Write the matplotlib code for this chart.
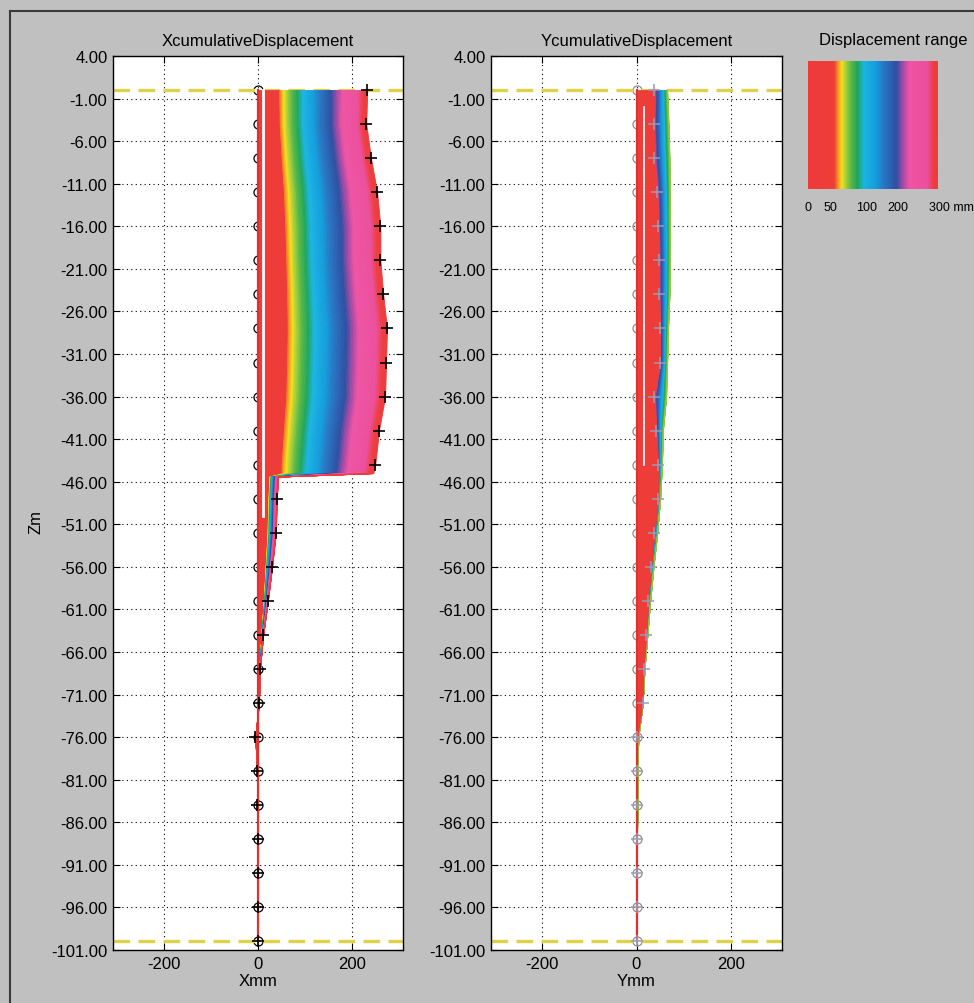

# Cumulative inclinometer displacement profiles (X and Y) with a displacement range key
import numpy as np
import matplotlib.pyplot as plt
from matplotlib.colors import LinearSegmentedColormap
from matplotlib.lines import Line2D

plt.rcParams['font.family'] = ['Liberation Sans', 'DejaVu Sans']
plt.rcParams['axes.unicode_minus'] = False

# reading depths (m)
depth = [0, -4, -8, -12, -16, -20, -24, -28, -32, -36, -40, -44, -48,
         -52, -56, -60, -64, -68, -72, -76, -80, -84, -88, -92, -96, -100]
initial = [0] * len(depth)

# X profile: latest reading (+ markers) and edge of the early red readings (mm)
x_final = [232, 230, 240, 253, 260, 260, 266, 274, 272, 270, 257, 249, 40,
           38, 30, 21, 11, 4, 2, -6, -2, -2, 0, 0, 0, 0]
x_red = [45, 46, 50, 55, 58, 60, 62, 63, 62, 60, 55, 50, 22,
         20, 16, 12, 7, 3, 1, -3, -1, -1, 0, 0, 0, 0]
# step of the X profile just below -44 m
step_depth = [-45.0, -45.4]
step_final = [245, 43]
step_red = [50, 24]

# Y profile: latest reading (+ markers) and the outer envelope of all readings (mm)
y_final = [38, 36, 38, 44, 46, 48, 48, 50, 50, 38, 42, 46, 46,
           38, 31, 25, 21, 15, 13, 2, 0, 0, 0, 0, 0, 0]
y_env = [65, 68, 70, 71, 71, 71, 70, 67, 65, 63, 56, 54, 50,
         44, 36, 29, 23, 17, 13, 4, 2, 2, 1, 1, 1, 0]

# white gaps in the early readings
x_gap, x_gap_depth = [10, 10], [0, -50]
y_gap, y_gap_depth = [15, 15], [-2, -44]

ref_levels = [0, -100]
yticks = [4 - 5 * i for i in range(22)]
xticks = [-200, 0, 200]

key_labels = ['0', '50', '100', '200', '300 mm']
key_label_pos = [0.0, 0.17, 0.45, 0.69, 0.93]

# displacement range colours
cmap_pos = [0.0, 0.20, 0.235, 0.26, 0.29, 0.33, 0.38, 0.43, 0.52, 0.58,
            0.68, 0.74, 0.78, 0.92, 0.97, 1.0]
cmap_col = ['#ee3b3b', '#ef3d37', '#f6a01e', '#f3e21f', '#a6cf3a', '#5bb947',
            '#1fa65c', '#1bb5e3', '#149fdd', '#2878c6', '#2e4fa2', '#b54aa6',
            '#ee55a4', '#ec4f9c', '#ee3d3d', '#ee3b3b']
cmap = LinearSegmentedColormap.from_list('disp', list(zip(cmap_pos, cmap_col)))

red = cmap(0.1)


def bands(ax, z, lo, hi, c0, c1, n=70):
    lo = np.asarray(lo, float)
    hi = np.asarray(hi, float)
    for k in range(n):
        a = lo + (hi - lo) * k / n
        b = lo + (hi - lo) * (k + 1) / n
        c = cmap(c0 + (c1 - c0) * (k + 0.5) / n)
        ax.fill_betweenx(z, a, b, color=c, lw=0.6, zorder=3)


def style(ax, title, xlabel):
    ax.set_xlim(-308, 308)
    ax.set_ylim(-101, 4)
    ax.set_yticks(yticks)
    ax.set_yticklabels(['%.2f' % v for v in yticks])
    ax.set_xticks(xticks)
    ax.grid(True, color='black', linestyle=(0, (1, 3)), linewidth=0.8)
    ax.set_axisbelow(True)
    ax.tick_params(direction='in', top=True, right=True, length=5,
                   labelsize=12, pad=4)
    for s in ax.spines.values():
        s.set_linewidth(1.0)
    ax.set_title(title, fontsize=12, pad=8)
    ax.set_xlabel(xlabel, fontsize=12, labelpad=2)
    for lev in ref_levels:
        ax.axhline(lev, color='#ddd24a', lw=2.4, dashes=(5, 2.5), zorder=2.5)


fig = plt.figure(figsize=(9.74, 10.04), dpi=100, facecolor='#c0c0c0')
axx = fig.add_axes([113 / 974, 53 / 1004, 290 / 974, 894 / 1004])
axy = fig.add_axes([491 / 974, 53 / 1004, 291 / 974, 894 / 1004])

# X panel
zx = depth[:12] + step_depth + depth[12:]
fx = x_final[:12] + step_final + x_final[12:]
rx = x_red[:12] + step_red + x_red[12:]
axx.plot(initial, depth, 'o', ms=6.5, mfc='none', mec='black', mew=0.9, zorder=2)
axx.fill_betweenx(zx, 0, rx, color=red, lw=0.6, zorder=3)
bands(axx, zx, rx, fx, 0.22, 1.0)
axx.plot(initial, depth, color='#e03030', lw=1.6, zorder=3.5)
axx.plot(x_gap, x_gap_depth, color='white', lw=2.0, zorder=3.6)
axx.plot(x_final, depth, '+', ms=9, mec='black', mew=1.2, zorder=5)
style(axx, 'XcumulativeDisplacement', 'Xmm')
axx.set_ylabel('Zm', fontsize=12)
axx.yaxis.set_label_coords(-0.24, 0.48)

# Y panel
axy.plot(initial, depth, 'o', ms=6.5, mfc='none', mec='#8c8c8c', mew=0.9, zorder=2)
bands(axy, depth, y_final, y_env, 0.78, 0.30)
axy.fill_betweenx(depth, 0, y_final, color=red, lw=0.6, zorder=3)
axy.plot(initial, depth, color='#e03030', lw=1.6, zorder=3.5)
axy.plot(y_gap, y_gap_depth, color='white', lw=1.2, zorder=3.6)
axy.plot(y_final, depth, '+', ms=8, mec='#9a9ab4', mew=1.1, zorder=5)
style(axy, 'YcumulativeDisplacement', 'Ymm')

# displacement range key
axk = fig.add_axes([808 / 974, 814 / 1004, 130 / 974, 128 / 1004])
axk.imshow(np.linspace(0, 1, 256)[None, :], cmap=cmap, aspect='auto',
           extent=(0, 1, 0, 1))
axk.set_xlim(0, 1)
axk.set_ylim(0, 1)
axk.axis('off')
fig.text(893 / 974, 1 - 40 / 1004, 'Displacement range', fontsize=12,
         ha='center', va='center')
for lab, p in zip(key_labels, key_label_pos):
    fig.text((808 + p * 130) / 974, 1 - 208 / 1004, lab, fontsize=9,
             ha='left' if lab.endswith('mm') else 'center', va='center')

# window frame
fig.add_artist(Line2D([10 / 974, 10 / 974], [0, 1 - 12 / 1004],
                      color='#3a3a3a', lw=1.5))
fig.add_artist(Line2D([10 / 974, 1], [1 - 12 / 1004, 1 - 12 / 1004],
                      color='#3a3a3a', lw=1.5))

fig.savefig('out.png', dpi=100, facecolor=fig.get_facecolor())
